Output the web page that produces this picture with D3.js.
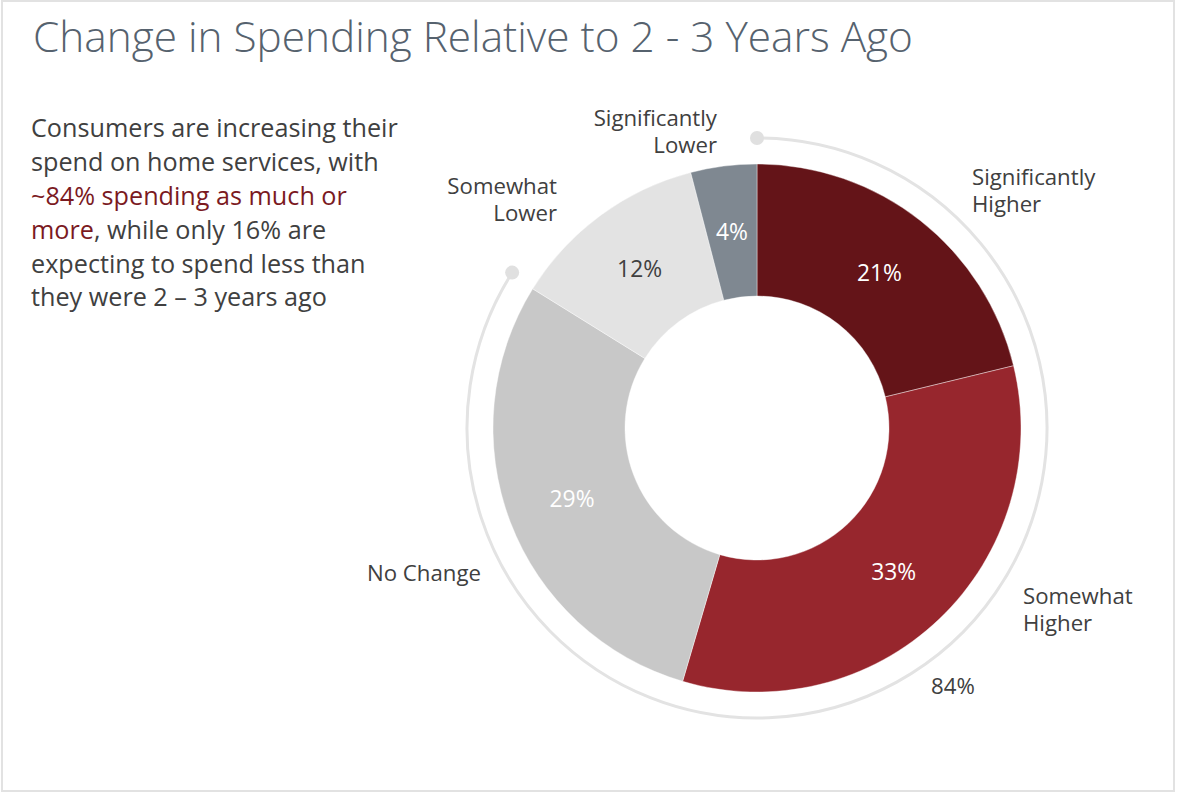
<!DOCTYPE html>
<html>
<head>
<meta charset="utf-8">
<script src="https://cdn.jsdelivr.net/npm/d3@7"></script>
<style>
  html, body { margin: 0; padding: 0; background: #fff; }
  svg { display: block; }
  text { font-family: "Open Sans", "Noto Sans", sans-serif; }
</style>
</head>
<body>
<svg id="chart" width="1177" height="793"></svg>
<script>
// Survey shares (percent) by answer, clockwise from 12 o'clock
const categories = ["Significantly Higher", "Somewhat Higher", "No Change", "Somewhat Lower", "Significantly Lower"];
const values = [21, 33, 29, 12, 4];
const sliceLabels = ["21%", "33%", "29%", "12%", "4%"];
// Share spending as much or more, shown by the outer bracket arc
const bracketValue = 84;
const bracketLabel = "84%";

const titleText = "Change in Spending Relative to 2 - 3 Years Ago";
const bodyLines = [
  [{ t: "Consumers are increasing their" }],
  [{ t: "spend on home services, with" }],
  [{ t: "~84% spending as much or", red: true }],
  [{ t: "more", red: true }, { t: ", while only 16% are" }],
  [{ t: "expecting to spend less than" }],
  [{ t: "they were 2 \u2013 3 years ago" }]
];

const palette = ["#641418", "#97262d", "#c8c8c8", "#e3e3e3", "#7f8891"];
const valueTextColor = ["#ffffff", "#ffffff", "#ffffff", "#404040", "#ffffff"];

const svg = d3.select("#chart");
const W = 1177, H = 793;

svg.append("rect").attr("x", 0).attr("y", 0).attr("width", W).attr("height", H).attr("fill", "#ffffff");
svg.append("rect").attr("x", 2).attr("y", 1).attr("width", W - 5).attr("height", H - 3)
  .attr("fill", "none").attr("stroke", "#e2e2e2").attr("stroke-width", 2);

// scale a text element's font size so its rendered width equals target
function fitSize(node, base, target) {
  node.setAttribute("font-size", base);
  const w = node.getComputedTextLength();
  return base * target / w;
}

// Title
const title = svg.append("text")
  .attr("x", 33).attr("y", 52)
  .attr("fill", "#56626e").attr("font-weight", 300)
  .text(titleText);
title.attr("font-size", fitSize(title.node(), 40, 880));

// Body paragraph
const body = svg.append("g");
const bodyBaselines = [137, 171, 205, 238.5, 272.5, 306];
const bodyText = bodyLines.map((line, i) => {
  const t = body.append("text").attr("x", 31).attr("y", bodyBaselines[i]).attr("fill", "#404040");
  line.forEach(seg => t.append("tspan").attr("fill", seg.red ? "#7b1a1f" : "#404040").text(seg.t));
  return t;
});
const bodySize = fitSize(bodyText[0].node(), 24, 367);
bodyText.forEach(t => t.attr("font-size", bodySize));

// Donut
const cx = 757, cy = 428;
const innerR = 132, outerR = 264, bracketR = 290, labelR = 198;
const g = svg.append("g").attr("transform", `translate(${cx},${cy})`);

const pie = d3.pie().sort(null).value(d => d);
const arcs = pie(values);
const arc = d3.arc().innerRadius(innerR).outerRadius(outerR);
const labelArc = d3.arc().innerRadius(labelR).outerRadius(labelR);

g.selectAll("path.slice").data(arcs).join("path")
  .attr("class", "slice")
  .attr("d", arc)
  .attr("fill", (d, i) => palette[i])
  .attr("stroke", "#ffffff").attr("stroke-width", 0.4);

// Outer bracket arc for the "as much or more" share
const bracketScale = d3.scaleLinear().domain([0, 100]).range([0, 2 * Math.PI]);
const bracketEnd = bracketScale(bracketValue);
g.append("path")
  .attr("d", d3.arc()({ innerRadius: bracketR, outerRadius: bracketR, startAngle: 0, endAngle: bracketEnd }))
  .attr("fill", "none").attr("stroke", "#e3e3e3").attr("stroke-width", 3);
[0, bracketEnd].forEach(a => {
  g.append("circle")
    .attr("cx", bracketR * Math.sin(a)).attr("cy", -bracketR * Math.cos(a))
    .attr("r", 7).attr("fill", "#e0e0e0");
});

// Values inside the slices
const valueText = g.selectAll("text.val").data(arcs).join("text")
  .attr("class", "val")
  .attr("transform", d => `translate(${labelArc.centroid(d)})`)
  .attr("text-anchor", "middle").attr("dy", "0.36em")
  .attr("fill", (d, i) => valueTextColor[i])
  .text((d, i) => sliceLabels[i]);
const valSize = fitSize(valueText.nodes()[0], 20, 45);
valueText.attr("font-size", valSize);

// Category labels around the ring
const catLayout = [
  { lines: ["Significantly", "Higher"], x: 972, y: 185, anchor: "start" },
  { lines: ["Somewhat", "Higher"], x: 1023, y: 604, anchor: "start" },
  { lines: ["No Change"], x: 367, y: 581, anchor: "start" },
  { lines: ["Somewhat", "Lower"], x: 557, y: 194, anchor: "end" },
  { lines: ["Significantly", "Lower"], x: 717, y: 126, anchor: "end" }
];
const catGroup = svg.append("g");
const catTexts = [];
categories.forEach((c, i) => {
  const L = catLayout[i];
  const words = c.split(" ");
  const lines = L.lines.length === 1 ? [c] : [words[0], words.slice(1).join(" ")];
  const t = catGroup.append("text").attr("fill", "#404040").attr("text-anchor", L.anchor);
  lines.forEach((ln, j) => {
    t.append("tspan").attr("x", L.x).attr("y", L.y + j * 27).text(ln);
  });
  catTexts.push(t);
});
const catSize = fitSize(catTexts[2].node(), 20, 114);
catTexts.forEach(t => t.attr("font-size", catSize));

svg.append("text")
  .attr("x", 931).attr("y", 694)
  .attr("fill", "#404040").attr("font-size", catSize)
  .text(bracketLabel);
</script>
</body>
</html>
